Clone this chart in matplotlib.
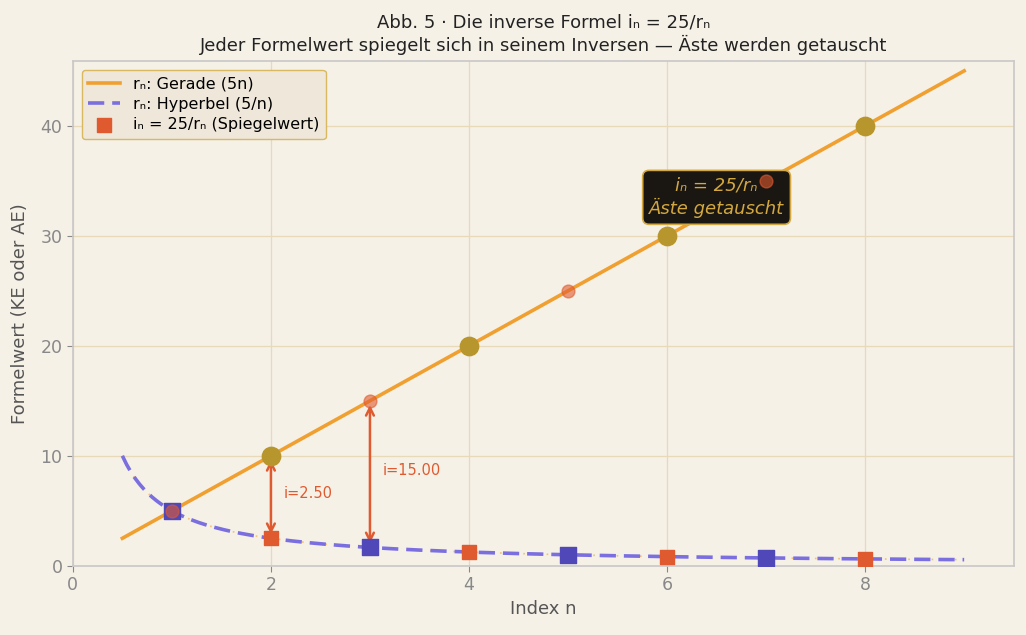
import numpy as np
import matplotlib.pyplot as plt

# Data
n_curve = np.linspace(0.5, 9, 200)
n_even = [2, 4, 6, 8]
r_even = [10, 20, 30, 40]
n_odd = [1, 3, 5, 7]
r_odd = [5, 15, 25, 35]
i_even = [2.5, 1.25, 0.833, 0.625]
i_odd = [5.0, 1.667, 1.0, 0.714]
arrow_n = [2, 3]
arrow_lo = [2.5, 1.667]
arrow_hi = [10, 15]
arrow_labels = ["i=2.50", "i=15.00"]

BG = "#f5f1e7"
ORANGE = "#f0a030"
PURPLE = "#7b6fe0"
BLUE_SQ = "#5048b8"
RED = "#e05a30"
GOLD = "#b8962e"

fig = plt.figure(figsize=(10.26, 6.35), dpi=100, facecolor=BG)
ax = fig.add_axes([0.071, 0.109, 0.917, 0.795], facecolor=BG)

ax.grid(True, color="#e8d9b8", linewidth=0.9, zorder=0)

ax.plot(n_curve, 5 * n_curve, color=ORANGE, lw=2.6, zorder=2, label="rₙ: Gerade (5n)")
ax.plot(n_curve, 5 / n_curve, color=ORANGE, lw=1.2, ls=(0, (1, 6)), alpha=0.6, zorder=2)
ax.plot(n_curve, 5 / n_curve, color=PURPLE, lw=2.6, ls=(0, (4.5, 2.2)), zorder=2,
        label="rₙ: Hyperbel (5/n)")

# markers on the straight line
ax.scatter(n_even, r_even, s=175, color=GOLD, zorder=5)
ax.scatter(n_odd, r_odd, s=85, color=RED, alpha=0.6, edgecolors=RED, linewidths=1, zorder=6)

# mirror values
ax.scatter(n_odd, i_odd, s=130, marker="s", color=BLUE_SQ, zorder=4)
ax.scatter(n_even, i_even, s=100, marker="s", color=RED, zorder=4,
           label="iₙ = 25/rₙ (Spiegelwert)")

# arrows between value and mirror value
for x, lo, hi, lab in zip(arrow_n, arrow_lo, arrow_hi, arrow_labels):
    ax.annotate("", xy=(x, hi), xytext=(x, lo),
                arrowprops=dict(arrowstyle="<->", color=RED, lw=1.8, shrinkA=3, shrinkB=3,
                                mutation_scale=14),
                zorder=3)
    ax.text(x + 0.13, (lo + hi) / 2 + 0.35, lab, color=RED, fontsize=10.5, va="center")

ax.text(6.5, 33.5, "iₙ = 25/rₙ\nÄste getauscht", color="#d4a840", fontsize=13,
        style="italic", ha="center", va="center", zorder=5,
        bbox=dict(boxstyle="round,pad=0.35", facecolor="#1a1712", edgecolor="#d4a840", lw=1.2))

ax.set_xlim(0, 9.5)
ax.set_ylim(0, 45.9)
ax.set_xticks([0, 2, 4, 6, 8])
ax.set_yticks([0, 10, 20, 30, 40])
ax.tick_params(colors="#888888", labelsize=12.5, length=4)
for sp in ax.spines.values():
    sp.set_color("#c8c8c8")
    sp.set_linewidth(1.2)

ax.set_xlabel("Index n", fontsize=13, color="#555555")
ax.set_ylabel("Formelwert (KE oder AE)", fontsize=13, color="#555555", labelpad=8)
ax.set_title("Abb. 5 · Die inverse Formel iₙ = 25/rₙ\n"
             "Jeder Formelwert spiegelt sich in seinem Inversen — Äste werden getauscht",
             fontsize=13, color="#222222", pad=7)

leg = ax.legend(loc="upper left", fontsize=11.5, facecolor="#efe8da", edgecolor="#d8b860",
                framealpha=1, borderpad=0.4, borderaxespad=0.55, labelspacing=0.35)

fig.savefig("out.png", dpi=100, facecolor=BG)
